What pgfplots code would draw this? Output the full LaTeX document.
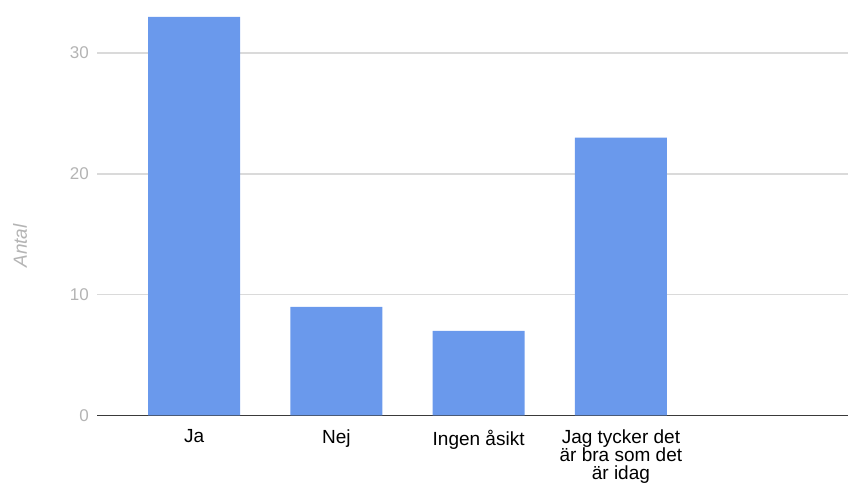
\documentclass[border=0pt]{standalone}
\usepackage{fontspec}
\setmainfont{Liberation Sans}
\usepackage{pgfplots}
\pgfplotsset{compat=1.18}
\definecolor{barblue}{HTML}{6A99EC}
\definecolor{gridgray}{HTML}{DADADA}
\definecolor{tickgray}{HTML}{B4B4B4}
\definecolor{axisdark}{HTML}{3A3A3A}
\begin{document}
\begin{tikzpicture}[x=1pt,y=1pt]
\useasboundingbox (0,0) rectangle (848,484);
\begin{axis}[
  at={(97pt,68.5pt)}, anchor=south west, scale only axis,
  width=751pt, height=415.5pt,
  xmin=-0.682, xmax=4.596, ymin=0, ymax=34.4,
  separate axis lines,
  axis x line*=bottom, axis y line*=left,
  x axis line style={draw=axisdark, line width=1.5pt},
  y axis line style={draw=none},
  ymajorgrids, grid style={gridgray, line width=1.3pt},
  ytick={0,10,20,30}, xtick={0,1,2,3}, major tick length=0pt,
  xticklabels={Ja, Nej, Ingen åsikt, {Jag tycker det\\är bra som det\\är idag}},
  xticklabel style={align=center, anchor=north, inner sep=0pt, yshift=-14pt,
    font=\fontsize{19}{18}\selectfont, text=black},
  yticklabel style={anchor=east, inner sep=0pt, xshift=-8pt,
    font=\fontsize{17}{17}\selectfont, text=tickgray},
  /pgf/number format/assume math mode=true,
  ybar, bar width=92pt,
]
\addplot[fill=barblue, draw=none] coordinates {(0,33) (1,9) (2,7) (3,23)};
\end{axis}
\node[rotate=90, font=\fontsize{19}{19}\selectfont\itshape, text=tickgray] at (20,238) {Antal};
\end{tikzpicture}
\end{document}
